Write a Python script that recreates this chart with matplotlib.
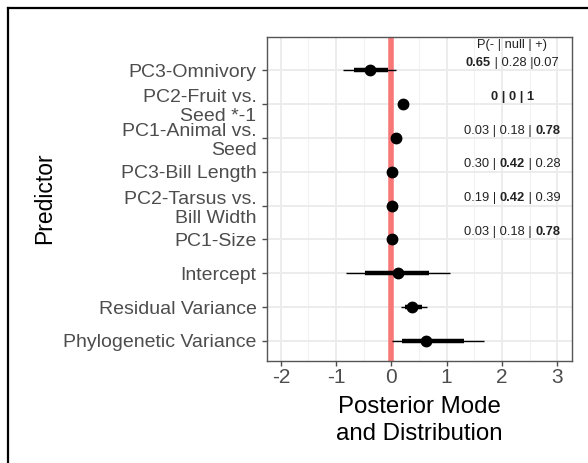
import re
import matplotlib
matplotlib.use("Agg")
import matplotlib.pyplot as plt
from matplotlib.lines import Line2D
from matplotlib.ticker import MultipleLocator
from matplotlib.transforms import ScaledTranslation

plt.rcParams['font.family'] = ['Liberation Sans', 'DejaVu Sans']

# ---------------- data ----------------
predictors = ["PC3-Omnivory", "PC2-Fruit vs.\nSeed *-1", "PC1-Animal vs.\nSeed",
              "PC3-Bill Length", "PC2-Tarsus vs.\nBill Width", "PC1-Size",
              "Intercept", "Residual Variance", "Phylogenetic Variance"]
mode = [-0.39, 0.21, 0.09, 0.01, 0.02, 0.02, 0.12, 0.37, 0.63]
lo95 = [-0.88, 0.15, 0.05, -0.02, -0.01, -0.01, -0.82, 0.18, 0.01]
hi95 = [0.09, 0.27, 0.13, 0.04, 0.05, 0.05, 1.06, 0.65, 1.68]
lo50 = [-0.68, 0.18, 0.07, 0.00, 0.01, 0.01, -0.47, 0.25, 0.19]
hi50 = [-0.06, 0.24, 0.11, 0.02, 0.03, 0.03, 0.68, 0.56, 1.31]
prob_header = "P(- | null | +)"
prob_labels = ["**0.65** | 0.28 |0.07", "**0 | 0 | 1**", "0.03 | 0.18 | **0.78**",
               "0.30 | **0.42** | 0.28", "0.19 | **0.42** | 0.39", "0.03 | 0.18 | **0.78**"]
xticks = [-2, -1, 0, 1, 2, 3]

# ---------------- figure ----------------
W, H = 588, 463
fig = plt.figure(figsize=(W / 100, H / 100), dpi=100)
ax = fig.add_axes([267 / W, 1 - 360.5 / H, (571.5 - 267) / W, (360.5 - 36.7) / H])

n = len(predictors)
ypos = [n - i for i in range(n)]  # top to bottom

ax.set_xlim(-2.25, 3.26)
ax.set_ylim(0.42, 10.0)

# grid
ax.xaxis.set_major_locator(MultipleLocator(1))
ax.xaxis.set_minor_locator(MultipleLocator(0.5))
ax.set_xticks(xticks)
ax.grid(True, which='major', axis='x', color='#EBEBEB', lw=1.3, zorder=0)
ax.grid(True, which='minor', axis='x', color='#F2F2F2', lw=0.8, zorder=0)
ax.set_yticks(ypos)
ax.grid(True, which='major', axis='y', color='#EBEBEB', lw=1.3, zorder=0)
ax.set_axisbelow(True)
ax.tick_params(which='minor', length=0)

# reference line
ax.axvline(0, color='#F87878', lw=4.0, zorder=1)

# intervals and points
for y, m, l95, h95, l50, h50 in zip(ypos, mode, lo95, hi95, lo50, hi50):
    ax.plot([l95, h95], [y, y], color='black', lw=1.0, solid_capstyle='butt', zorder=2)
    ax.plot([l50, h50], [y, y], color='black', lw=3.2, solid_capstyle='butt', zorder=3)
    ax.plot([m], [y], 'o', color='black', ms=7.5, zorder=4)

# tick labels
ax.set_yticklabels(predictors, fontsize=14.0, color='#4D4D4D', linespacing=1.15)
shift = ScaledTranslation(0, -6 / 100, fig.dpi_scale_trans)
for t in ax.get_yticklabels():
    if '\n' in t.get_text():
        t.set_transform(t.get_transform() + shift)
ax.set_xticklabels([str(t) for t in xticks], fontsize=15, color='#4D4D4D')
ax.tick_params(axis='both', which='major', length=3.5, width=1, color='#4D4D4D')
ax.tick_params(axis='y', pad=4)
ax.tick_params(axis='x', pad=2)

for s in ax.spines.values():
    s.set_color('#555555')
    s.set_linewidth(1.0)

ax.set_xlabel("Posterior Mode\nand Distribution", fontsize=17.3, color='black',
              linespacing=1.26, labelpad=6.5)
fig.text(45 / W, 1 - 198 / H, "Predictor", rotation=90, fontsize=16.5,
         ha='center', va='center', color='black')

# annotations
ann_x = 2.19
ann_fs = 9.3
ax.text(ann_x, ypos[0] + 0.76, prob_header, fontsize=ann_fs, ha='center',
        va='center', color='#222222')

groups = []
for y, lab in zip(ypos, prob_labels):
    parts = [p for p in re.split(r'(\*\*.*?\*\*)', lab) if p]
    prev = None
    arts = []
    for p in parts:
        bold = p.startswith('**')
        txt = p.strip('*') if bold else p
        kw = dict(fontsize=ann_fs, color='#222222', ha='left', va='center',
                  fontweight='bold' if bold else 'normal')
        if prev is None:
            a = ax.annotate(txt, xy=(ann_x, y + 0.22), xycoords='data',
                            xytext=(0, 0), textcoords='offset pixels', **kw)
        else:
            a = ax.annotate(txt, xy=(1, 0.5), xycoords=prev, **kw)
        arts.append(a)
        prev = a
    groups.append(arts)

fig.canvas.draw()
r = fig.canvas.get_renderer()
for arts in groups:
    x0 = arts[0].get_window_extent(r).x0
    x1 = arts[-1].get_window_extent(r).x1
    arts[0].set_position((-(x1 - x0) / 2, 0))

# outer frame (left and top)
fx, fy = 8.3 / W, 1 - 8.3 / H
fig.add_artist(Line2D([fx, fx], [0, fy], transform=fig.transFigure, color='black', lw=1.6))
fig.add_artist(Line2D([fx, 1], [fy, fy], transform=fig.transFigure, color='black', lw=1.6))

fig.savefig("out.png", dpi=100)
